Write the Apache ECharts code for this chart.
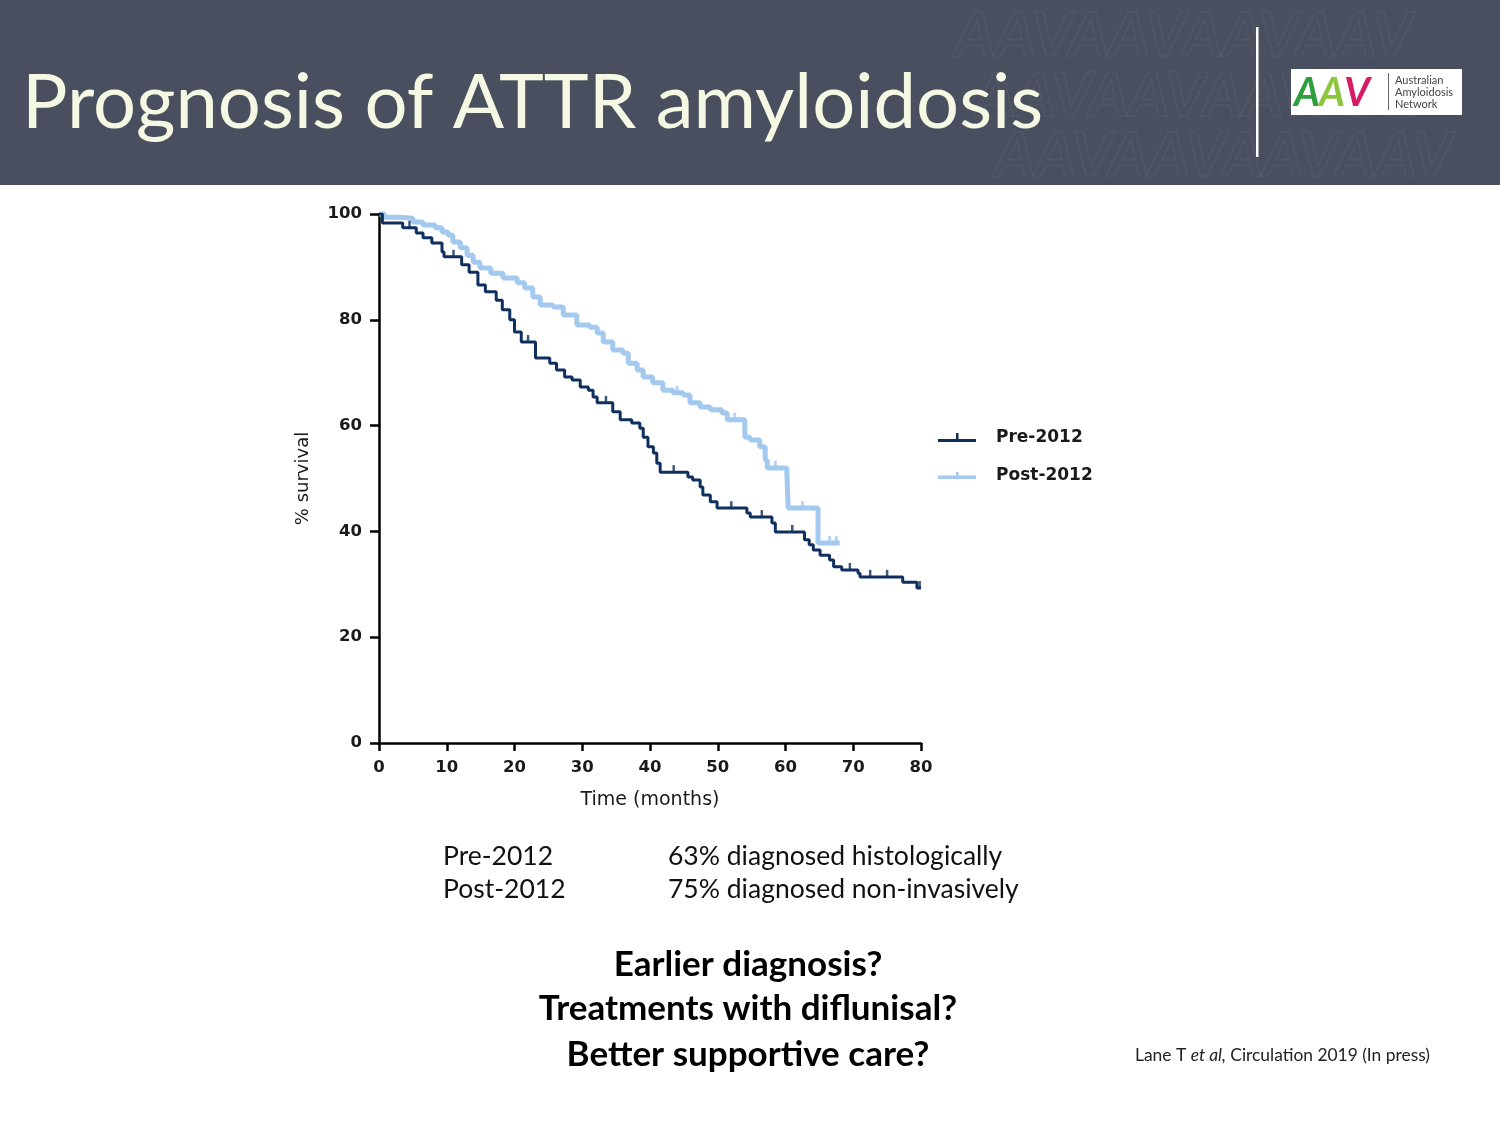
<!DOCTYPE html>
<html>
<head>
<meta charset="utf-8">
<script src="https://cdn.jsdelivr.net/npm/echarts@6/dist/echarts.min.js"></script>
<style>
html,body{margin:0;padding:0;background:#ffffff;}
#chart{width:1500px;height:1125px;}
</style>
</head>
<body>
<div id="chart"></div>
<script>
// ---- Data ----
const xTicks = [0, 10, 20, 30, 40, 50, 60, 70, 80];
const yTicks = [0, 20, 40, 60, 80, 100];

const preTime = [0, 0.5, 3.5, 5.5, 6.5, 7.8, 9.3, 9.6, 12.2, 13.3, 14.6, 15.7, 17.3, 18.2, 19.3, 20.0, 21.0, 23.1, 25.2, 26.2, 27.4, 28.5, 29.7, 30.9, 31.6, 32.2, 34.5, 35.6, 37.3, 38.5, 39.0, 39.7, 40.5, 41.0, 41.5, 45.6, 46.3, 47.4, 47.8, 48.9, 49.9, 54.3, 54.8, 58.0, 58.5, 62.8, 63.5, 64.1, 65.1, 66.5, 67.1, 68.3, 70.7, 71.0, 77.3, 79.4, 80.0];
const preSurv = [100, 98.3, 97.4, 96.4, 95.5, 94.5, 92.8, 91.9, 90.4, 89.0, 86.6, 85.3, 83.7, 81.9, 80.0, 77.7, 75.8, 72.8, 71.8, 70.5, 69.2, 68.6, 67.3, 66.7, 65.4, 64.3, 62.6, 61.1, 60.5, 59.5, 57.8, 56.0, 54.8, 52.9, 51.2, 50.3, 49.7, 48.4, 46.9, 45.6, 44.4, 43.5, 42.7, 41.6, 39.9, 38.4, 37.5, 36.5, 35.5, 34.6, 33.3, 32.7, 32.1, 31.4, 30.4, 29.3, 29.3];

const postTime = [0, 0.8, 3.1, 5.0, 6.5, 8.3, 9.3, 10.2, 10.9, 12.0, 13.0, 13.9, 14.9, 16.5, 18.3, 20.4, 21.5, 22.7, 23.8, 25.7, 27.2, 29.2, 31.1, 32.2, 33.1, 34.5, 36.0, 36.8, 38.1, 39.0, 40.4, 41.9, 43.4, 44.9, 45.9, 47.4, 48.9, 50.6, 51.4, 54.0, 54.8, 56.2, 57.0, 57.3, 60.2, 60.4, 64.8, 68.0];
const postSurv = [100, 99.4, 99.2, 98.5, 97.9, 97.4, 96.6, 96.0, 94.7, 93.6, 92.2, 90.9, 89.8, 88.8, 87.9, 87.0, 86.0, 84.3, 82.8, 82.4, 80.9, 79.0, 78.6, 77.5, 75.8, 74.3, 73.7, 71.8, 70.5, 69.2, 68.1, 66.7, 66.2, 65.8, 64.3, 63.5, 63.0, 62.4, 61.1, 57.8, 57.3, 56.0, 53.5, 52.0, 51.0, 44.4, 37.8, 37.8];

// censor marks [time, survival]
const preCensor = [[4.5, 97.4], [11.0, 91.9], [22.0, 75.8], [33.5, 64.3], [43.5, 51.2], [52.0, 44.4], [56.5, 42.7], [61.0, 39.9], [69.5, 32.7], [72.5, 31.4], [75.0, 31.4], [79.8, 29.3]];
const postCensor = [[44.0, 66.2], [52.5, 61.1], [58.5, 52.0], [62.5, 44.4], [66.5, 37.8], [67.5, 37.8]];

const seriesNames = ['Pre-2012', 'Post-2012'];
const colors = ['#0f2f5e', '#a4c9ef'];

const zip = (a, b) => a.map((v, i) => [v, b[i]]);

const chart = echarts.init(document.getElementById('chart'), null, {renderer: 'canvas'});

const axisFont = {fontFamily: 'DejaVu Sans', fontWeight: 'bold', fontSize: 16.5, color: '#1a1a1a'};

// watermark rows (decorative)
const wm = [];
for (let r = 0; r < 3; r++) {
  wm.push({
    type: 'text', silent: true, z: -1,
    style: {x: 955 + r * 20, y: 5 + r * 60, text: 'AAVAAVAAVAAV', font: 'italic bold 62px Lato',
      fill: 'rgba(0,0,0,0)', stroke: 'rgba(255,255,255,0.045)', lineWidth: 1.5}
  });
}

const logoFont = {fontFamily: 'Lato', fontWeight: 'bold', fontStyle: 'italic', fontSize: 40};

const option = {
  backgroundColor: '#ffffff',
  animation: false,
  grid: {left: 379, right: 579, top: 214, bottom: 382, containLabel: false},
  xAxis: {
    type: 'value', min: 0, max: 80, interval: 10,
    name: 'Time (months)', nameLocation: 'middle', nameGap: 48,
    nameTextStyle: {fontFamily: 'DejaVu Sans', fontSize: 19, color: '#1a1a1a'},
    axisLine: {show: true, onZero: false, lineStyle: {color: '#000', width: 2.5}},
    axisTick: {show: true, length: 8, lineStyle: {color: '#000', width: 2.5}},
    axisLabel: Object.assign({margin: 16, formatter: v => xTicks.includes(v) ? String(v) : ''}, axisFont),
    splitLine: {show: false}
  },
  yAxis: {
    type: 'value', min: 0, max: 100, interval: 20,
    name: '% survival', nameLocation: 'middle', nameGap: 67, nameRotate: 90,
    nameTextStyle: {fontFamily: 'DejaVu Sans', fontSize: 18, color: '#1a1a1a'},
    axisLine: {show: true, onZero: false, lineStyle: {color: '#000', width: 2.5}},
    axisTick: {show: true, length: 9, lineStyle: {color: '#000', width: 2.5}},
    axisLabel: Object.assign({margin: 17, formatter: v => yTicks.includes(v) ? String(v) : ''}, axisFont),
    splitLine: {show: false}
  },
  legend: {
    orient: 'vertical', left: 933, top: 424, itemWidth: 38, itemHeight: 12, itemGap: 21,
    textStyle: {fontFamily: 'DejaVu Sans', fontWeight: 'bold', fontSize: 17, color: '#1a1a1a', padding: [0, 0, 0, 15]},
    data: [
      {name: 'Pre-2012', icon: 'path://M0,9 L38,9 L38,12 L0,12 Z M18,3 L20.5,3 L20.5,9 L18,9 Z'},
      {name: 'Post-2012', icon: 'path://M0,8.5 L38,8.5 L38,12 L0,12 Z M18,5 L20.5,5 L20.5,9 L18,9 Z'}
    ]
  },
  series: [
    {
      name: seriesNames[1], type: 'line', step: 'end', data: zip(postTime, postSurv),
      showSymbol: false, symbol: 'none', color: colors[1],
      lineStyle: {color: colors[1], width: 5}, z: 2
    },
    {
      name: seriesNames[0], type: 'line', step: 'end', data: zip(preTime, preSurv),
      showSymbol: false, symbol: 'none', color: colors[0],
      lineStyle: {color: colors[0], width: 3}, z: 3
    },
    {
      name: seriesNames[1], type: 'scatter', data: postCensor, symbol: 'rect', symbolSize: [3, 8],
      symbolOffset: [0, -3], itemStyle: {color: colors[1]}, z: 2
    },
    {
      name: seriesNames[0], type: 'scatter', data: preCensor, symbol: 'rect', symbolSize: [2.5, 8],
      symbolOffset: [0, -3], itemStyle: {color: colors[0]}, z: 3
    }
  ],
  graphic: [
    {type: 'rect', silent: true, z: -2, shape: {x: 0, y: 0, width: 1500, height: 185}, style: {fill: '#4a4f5f'}},
    ...wm,
    {type: 'text', style: {x: 22, y: 103, text: 'Prognosis of ATTR amyloidosis', font: '76px Lato', fill: '#f5f8e2', verticalAlign: 'middle'}},
    {type: 'rect', shape: {x: 1256, y: 27, width: 2.5, height: 130}, style: {fill: '#ffffff'}},
    {type: 'rect', shape: {x: 1291, y: 69, width: 171, height: 46}, style: {fill: '#ffffff'}},
    {type: 'text', style: Object.assign({x: 1294, y: 93, verticalAlign: 'middle', text: 'A', fill: '#2f9e3e'}, logoFont)},
    {type: 'text', style: Object.assign({x: 1319, y: 93, verticalAlign: 'middle', text: 'A', fill: '#8cc63f'}, logoFont)},
    {type: 'text', style: Object.assign({x: 1344, y: 93, verticalAlign: 'middle', text: 'V', fill: '#d81b64'}, logoFont)},
    {type: 'rect', shape: {x: 1388, y: 73, width: 1, height: 37}, style: {fill: '#666'}},
    {type: 'text', style: {x: 1395, y: 80, text: 'Australian', font: '11px Lato', fill: '#444', verticalAlign: 'middle'}},
    {type: 'text', style: {x: 1395, y: 92, text: 'Amyloidosis', font: '11px Lato', fill: '#444', verticalAlign: 'middle'}},
    {type: 'text', style: {x: 1395, y: 104, text: 'Network', font: '11px Lato', fill: '#444', verticalAlign: 'middle'}},

    {type: 'text', style: {x: 443, y: 856, text: 'Pre-2012', font: '26.5px Lato', fill: '#111', verticalAlign: 'middle'}},
    {type: 'text', style: {x: 443, y: 889, text: 'Post-2012', font: '26.5px Lato', fill: '#111', verticalAlign: 'middle'}},
    {type: 'text', style: {x: 668, y: 856, text: '63% diagnosed histologically', font: '26.5px Lato', fill: '#111', verticalAlign: 'middle'}},
    {type: 'text', style: {x: 668, y: 889, text: '75% diagnosed non-invasively', font: '26.5px Lato', fill: '#111', verticalAlign: 'middle'}},

    {type: 'text', style: {x: 748, y: 965, text: 'Earlier diagnosis?', font: 'bold 35px Lato', fill: '#000', align: 'center', verticalAlign: 'middle'}},
    {type: 'text', style: {x: 748, y: 1009, text: 'Treatments with diflunisal?', font: 'bold 35px Lato', fill: '#000', align: 'center', verticalAlign: 'middle'}},
    {type: 'text', style: {x: 748, y: 1055, text: 'Better supportive care?', font: 'bold 35px Lato', fill: '#000', align: 'center', verticalAlign: 'middle'}},

    {type: 'text', style: {x: 1135, y: 1055, verticalAlign: 'middle',
      text: '{n|Lane T }{i|et al,}{n| Circulation 2019 (In press)}',
      rich: {n: {fontFamily: 'Lato', fontSize: 17.4, fill: '#222'}, i: {fontFamily: 'Lato', fontStyle: 'italic', fontSize: 17.4, fill: '#222'}}}}
  ]
};
chart.setOption(option);
</script>
</body>
</html>
